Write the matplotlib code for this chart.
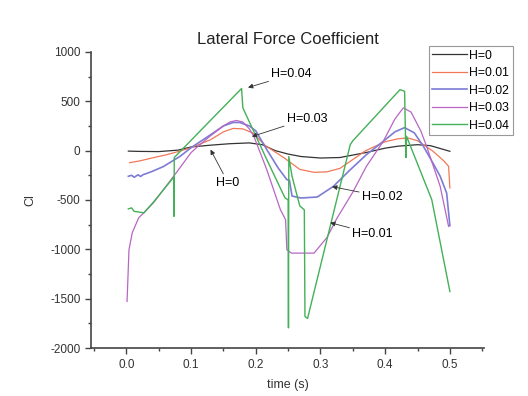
import matplotlib.pyplot as plt
from matplotlib.ticker import MultipleLocator

plt.rcParams['font.family'] = ['Liberation Sans', 'DejaVu Sans']
plt.rcParams['axes.unicode_minus'] = False

# H=0
t0 = [0.003, 0.02, 0.05, 0.08, 0.1, 0.13, 0.16, 0.19, 0.21, 0.23, 0.25, 0.27, 0.3, 0.33, 0.35, 0.37, 0.4, 0.42, 0.45, 0.47, 0.5]
c0 = [-5, -8, -10, 5, 37, 55, 70, 78, 60, 0, -35, -60, -75, -70, -45, -20, 25, 45, 60, 50, -7]
# H=0.01
t1 = [0.005, 0.02, 0.042, 0.06, 0.08, 0.1, 0.13, 0.15, 0.165, 0.18, 0.195, 0.215, 0.243, 0.268, 0.29, 0.31, 0.33, 0.35, 0.37, 0.4, 0.42, 0.435, 0.45, 0.474, 0.49, 0.498, 0.5]
c1 = [-122, -105, -71, -45, -10, 30, 110, 190, 225, 220, 180, 50, -70, -190, -220, -215, -180, -90, 0, 90, 120, 128, 100, -7, -100, -159, -378]
# H=0.02
t2 = [0.003, 0.008, 0.012, 0.018, 0.022, 0.026, 0.032, 0.04, 0.057, 0.083, 0.1, 0.13, 0.15, 0.165, 0.175, 0.19, 0.2, 0.217, 0.235, 0.248, 0.252, 0.256, 0.27, 0.295, 0.32, 0.345, 0.371, 0.397, 0.415, 0.43, 0.445, 0.459, 0.475, 0.485, 0.495, 0.5]
c2 = [-260, -250, -270, -245, -262, -243, -230, -210, -162, -58, 30, 160, 250, 285, 285, 250, 200, 10, -180, -294, -300, -460, -480, -470, -362, -200, -41, 94, 190, 233, 180, 44, -140, -260, -430, -760]
# H=0.03
t3 = [0.001, 0.004, 0.009, 0.019, 0.027, 0.042, 0.073, 0.1, 0.11, 0.13, 0.15, 0.16, 0.17, 0.18, 0.19, 0.197, 0.217, 0.238, 0.246, 0.248, 0.255, 0.29, 0.31, 0.325, 0.35, 0.371, 0.397, 0.415, 0.428, 0.44, 0.455, 0.464, 0.485, 0.498]
c3 = [-1528, -1004, -833, -680, -630, -527, -260, -20, 40, 150, 250, 290, 305, 290, 220, 145, -193, -598, -700, -1004, -1038, -1038, -880, -690, -420, -159, 94, 320, 433, 390, 200, 44, -362, -768]
# H=0.04
t4 = [0.003, 0.008, 0.012, 0.027, 0.042, 0.073, 0.0735, 0.074, 0.124, 0.178, 0.18, 0.217, 0.245, 0.25, 0.2505, 0.251, 0.256, 0.268, 0.275, 0.276, 0.28, 0.346, 0.35, 0.423, 0.43, 0.432, 0.433, 0.472, 0.5]
c4 = [-590, -580, -615, -630, -520, -270, -666, -70, 266, 629, 433, -91, -477, -500, -1795, -60, -260, -560, -600, -1680, -1700, 60, 100, 618, 600, -71, 145, -497, -1427]

labels = ['H=0', 'H=0.01', 'H=0.02', 'H=0.03', 'H=0.04']
colors = ['#333333', '#f07858', '#7c7cd4', '#b866c4', '#44b058']
widths = [0.9, 0.9, 1.2, 0.9, 1.0]

fig = plt.figure(figsize=(5.28, 3.96), dpi=100)
ax = fig.add_axes([0.172, 0.121, 0.745, 0.748])

for t, c, lab, col, lw in zip([t0, t1, t2, t3, t4], [c0, c1, c2, c3, c4], labels, colors, widths):
    ax.plot(t, c, color=col, lw=lw, label=lab)

ax.set_xlim(-0.055, 0.553)
ax.set_ylim(-2000, 1000)
ax.xaxis.set_minor_locator(MultipleLocator(0.05))
ax.yaxis.set_major_locator(MultipleLocator(500))
ax.yaxis.set_minor_locator(MultipleLocator(250))
ax.set_xticks([0.0, 0.1, 0.2, 0.3, 0.4, 0.5])
ax.set_xticklabels(['0.0', '0.1', '0.2', '0.3', '0.4', '0.5'])
ax.tick_params(which='both', direction='out', colors='#444444', labelcolor='#333333', labelsize=8.5)
ax.tick_params(which='major', length=4, width=1)
ax.tick_params(which='minor', length=2.5, width=1)
for s in ['top', 'right']:
    ax.spines[s].set_visible(False)
for s in ['left', 'bottom']:
    ax.spines[s].set_color('#444444')
    ax.spines[s].set_linewidth(1.2)

ax.set_title('Lateral Force Coefficient', fontsize=12, color='#222222', pad=6)
ax.set_xlabel('time (s)', fontsize=9, color='#333333', labelpad=6)
ax.set_ylabel('Cl', fontsize=9, color='#333333', labelpad=10)

arrow = dict(arrowstyle='-|>', lw=0.6, color='#333333', mutation_scale=7, shrinkA=0, shrinkB=0)
ax.annotate('H=0.04', xy=(0.188, 639), xytext=(0.224, 771), fontsize=9, va='center', arrowprops=arrow)
ax.annotate('H=0.03', xy=(0.194, 142), xytext=(0.248, 324), fontsize=9, va='center', arrowprops=arrow)
ax.annotate('H=0', xy=(0.130, 10), xytext=(0.139, -324), fontsize=9, va='center', arrowprops=arrow)
ax.annotate('H=0.02', xy=(0.318, -365), xytext=(0.364, -466), fontsize=9, va='center', arrowprops=arrow)
ax.annotate('H=0.01', xy=(0.315, -730), xytext=(0.349, -842), fontsize=9, va='center', arrowprops=arrow)

leg = fig.legend(loc='upper left', bbox_to_anchor=(0.812, 0.884), fontsize=8.8, fancybox=False,
                 framealpha=1, edgecolor='#999999', handlelength=2.8, handletextpad=0.2,
                 borderpad=0.3, labelspacing=0.45, borderaxespad=0)
leg.get_frame().set_linewidth(0.8)

fig.savefig('out.png', dpi=100)
